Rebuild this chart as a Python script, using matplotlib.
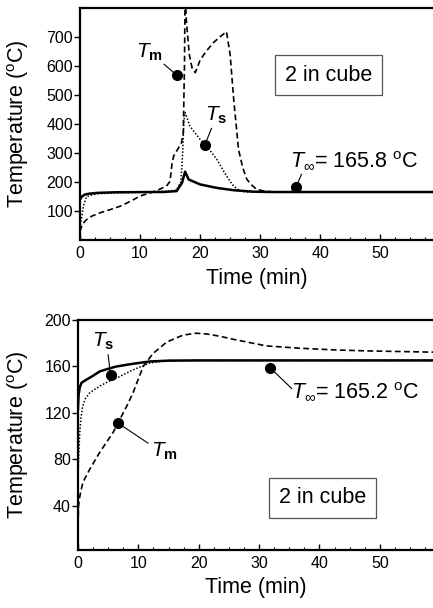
import matplotlib.pyplot as plt
from matplotlib.ticker import MultipleLocator

plt.rcParams['font.family'] = ['Liberation Sans', 'DejaVu Sans']
plt.rcParams['mathtext.fontset'] = 'custom'
plt.rcParams['mathtext.rm'] = 'Liberation Sans'
plt.rcParams['mathtext.it'] = 'Liberation Sans:italic'
plt.rcParams['mathtext.bf'] = 'Liberation Sans:bold'

# --- upper plot: 2 in cube, oven at 165.8 C ---
t_air1 = [0, 0.3, 0.8, 1.5, 3, 6, 10, 14, 16.1, 17.0, 17.5, 18.1, 20, 22.8, 25.6, 28.9, 32, 40, 50, 60]
T_air1 = [140, 150, 157, 160, 163, 165, 165.5, 166, 169, 198, 236, 209, 192, 180, 172, 167, 165.8, 165.8, 165.8, 165.8]

t_surf1 = [0, 0.3, 0.6, 1.1, 2, 3, 5, 10, 14, 16, 16.8, 17.1, 17.3, 17.5, 18.3, 20, 21.1, 22.8, 24.4, 25.6, 26.7, 28, 30, 40, 60]
T_surf1 = [40, 83, 120, 150, 156, 160, 162, 165, 168, 172, 200, 300, 410, 440, 393, 347, 324, 278, 221, 186, 169, 166, 165.8, 165.8, 165.8]

t_mid1 = [0, 0.4, 1.1, 2, 3.3, 5, 6.7, 8.5, 10, 11.7, 13, 14.4, 15, 15.3, 15.6, 16.1, 16.9, 17.2, 17.4, 17.5, 17.7, 18.2, 18.7, 19.2,
          20, 21, 22.2, 23.3, 24.4, 25, 25.6, 26.4, 27.1, 27.8, 28.6, 29.4, 30.5, 32.2, 40, 60]
T_mid1 = [30, 55, 71, 83, 94, 105, 117, 135, 152, 163, 173, 186, 203, 260, 290, 307, 335, 370, 600, 850, 760, 640, 590, 577,
          620, 650, 680, 700, 718, 640, 485, 313, 250, 209, 190, 175, 170, 166, 165.8, 165.8]

# --- lower plot: 2 in cube, oven at 165.2 C ---
t_air2 = [0, 0.1, 0.3, 0.6, 1.4, 2.5, 3.6, 5, 6.4, 9.1, 11.9, 15, 20, 30, 40, 60]
T_air2 = [123, 135, 142, 146, 148.6, 152, 155.7, 158, 160, 162.3, 164.3, 165, 165.2, 165.2, 165.2, 165.2]

t_surf2 = [0, 0.1, 0.3, 0.5, 0.8, 1.2, 1.9, 2.7, 3.6, 5, 6.4, 9.1, 11.9, 14.7, 20, 40, 60]
T_surf2 = [60, 80, 103, 116, 126, 132, 137, 140, 143, 147, 150, 157, 163, 165, 165.2, 165.2, 165.2]

t_mid2 = [0, 0.05, 0.1, 0.3, 0.8, 1.9, 3.6, 5.8, 6.9, 8, 9.1, 10.8, 12.4, 14.7, 17.4, 19.6, 21.3, 23.5, 25.7, 28.5,
          31.2, 36.7, 42.3, 47.8, 60]
T_mid2 = [15, 30, 40, 48, 60, 71, 86, 103, 114, 125, 137, 160, 171, 181, 187, 188.6, 188, 186, 183.4, 180.5,
          177.7, 175.7, 174.3, 173.4, 172.2]

time_ticks = [0, 10, 20, 30, 40, 50]

fig = plt.figure(figsize=(4.33, 6.08), dpi=100)
ax1 = fig.add_axes([0.1848, 0.605, 0.8152, 0.382])
ax2 = fig.add_axes([0.180, 0.0954, 0.820, 0.3783])


def style_axes(ax, ymin, ymax, yticks):
    ax.set_xlim(0, 58.8)
    ax.set_ylim(ymin, ymax)
    ax.set_xticks(time_ticks)
    ax.set_yticks(yticks)
    ax.xaxis.set_minor_locator(MultipleLocator(2.5))
    ax.tick_params(axis='x', which='major', direction='in', length=4, width=1, labelsize=11.5, pad=4)
    ax.tick_params(axis='x', which='minor', direction='in', length=2, width=0.8)
    ax.tick_params(axis='y', which='major', direction='out', length=4, width=1, labelsize=11.5, pad=1)
    ax.spines['right'].set_visible(False)
    for side in ['left', 'bottom', 'top']:
        ax.spines[side].set_linewidth(1.6)
    ax.set_ylabel(r'Temperature ($^{\mathrm{o}}$C)', fontsize=15.5)


# upper plot
style_axes(ax1, 0, 800, [100, 200, 300, 400, 500, 600, 700])
ax1.plot(t_air1, T_air1, color='black', lw=1.8)
ax1.plot(t_surf1, T_surf1, color='black', lw=1.1, ls=(0, (1, 1.2)))
ax1.plot(t_mid1, T_mid1, color='black', lw=1.2, ls=(0, (3.5, 2)))
ax1.set_xlabel('Time (min)', fontsize=15.5, labelpad=5)
ax1.yaxis.set_label_coords(-0.14, 0.5)

ax1.plot([16.1, 20.8, 36], [568, 328, 184], 'o', color='black', ms=7)
ax1.plot([14.0, 16.1], [606, 568], color='black', lw=0.8)
ax1.plot([20.8, 21.9], [328, 385], color='black', lw=0.8)
ax1.plot([36, 36.9], [184, 227], color='black', lw=0.8)
ax1.text(11.5, 647, r'$T_{\mathbf{m}}$', fontsize=15, ha='center', va='center')
ax1.text(22.7, 430, r'$T_{\mathbf{s}}$', fontsize=15, ha='center', va='center')
ax1.text(35.0, 272, r'$T_{\infty}$= 165.8 $^{\mathrm{o}}$C', fontsize=15.5, ha='left', va='center')
ax1.text(41.4, 568, '2 in cube', fontsize=15.5, ha='center', va='center',
         bbox=dict(boxstyle='square,pad=0.45', fc='white', ec='#555555', lw=0.9))

# lower plot
style_axes(ax2, 2, 200, [40, 80, 120, 160, 200])
ax2.plot(t_air2, T_air2, color='black', lw=1.8)
ax2.plot(t_surf2, T_surf2, color='black', lw=1.1, ls=(0, (1, 1.2)))
ax2.plot(t_mid2, T_mid2, color='black', lw=1.2, ls=(0, (3.5, 2)))
ax2.set_xlabel('Time (min)', fontsize=15.5, labelpad=5)
ax2.yaxis.set_label_coords(-0.133, 0.5)

ax2.plot([5.4, 6.6, 31.8], [152.6, 111.4, 159], 'o', color='black', ms=7)
ax2.plot([5.0, 5.4], [170, 152.6], color='black', lw=0.8)
ax2.plot([6.6, 11.6], [111.4, 94], color='black', lw=0.8)
ax2.plot([31.8, 35.4], [159, 141], color='black', lw=0.8)
ax2.text(4.2, 182, r'$T_{\mathbf{s}}$', fontsize=15, ha='center', va='center')
ax2.text(14.3, 87, r'$T_{\mathbf{m}}$', fontsize=15, ha='center', va='center')
ax2.text(35.3, 138, r'$T_{\infty}$= 165.2 $^{\mathrm{o}}$C', fontsize=15.5, ha='left', va='center')
ax2.text(40.5, 47, '2 in cube', fontsize=15.5, ha='center', va='center',
         bbox=dict(boxstyle='square,pad=0.45', fc='white', ec='#555555', lw=0.9))

fig.savefig('out.png', dpi=100)
